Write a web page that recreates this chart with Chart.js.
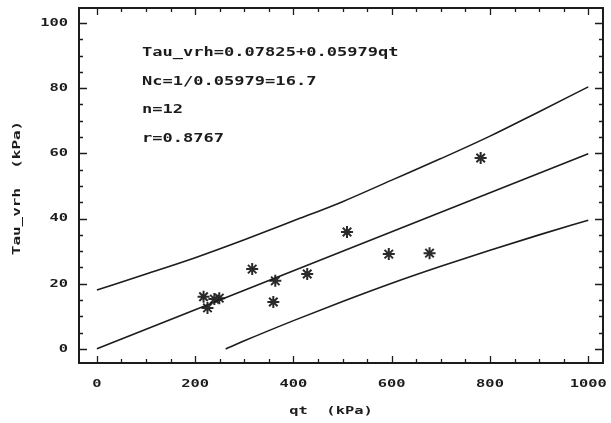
<!DOCTYPE html>
<html>
<head>
<meta charset="utf-8">
<script src="https://cdn.jsdelivr.net/npm/chart.js@4.4.1/dist/chart.umd.min.js"></script>
<style>
  html, body { margin: 0; padding: 0; background: #fff; }
  #wrap { width: 611px; height: 423px; }
</style>
</head>
<body>
<div id="wrap"><canvas id="chart" width="611" height="423"></canvas></div>
<script>
// measured points (qt, Tau_vrh)
const obsQt = [217, 225, 239, 249, 316, 359, 363, 428, 509, 594, 677, 781];
const obsTau = [16.0, 12.6, 15.3, 15.6, 24.5, 14.4, 20.9, 23.0, 35.9, 29.1, 29.4, 58.6];

// regression line
const fitQt = [0, 1000];
const fitTau = [0.1, 59.9];

// upper / lower bands
const upperQt = [0, 100, 200, 300, 400, 500, 600, 700, 800, 900, 1000];
const upperTau = [18.1, 23.0, 28.0, 33.5, 39.3, 45.2, 51.8, 58.4, 65.3, 72.8, 80.4];
const lowerQt = [262, 300, 400, 500, 600, 700, 800, 900, 1000];
const lowerTau = [0, 2.5, 8.7, 14.6, 20.2, 25.4, 30.3, 35.0, 39.5];

const xTicks = [0, 200, 400, 600, 800, 1000];
const yTicks = [0, 20, 40, 60, 80, 100];

const notes = [
  "Tau_vrh=0.07825+0.05979qt",
  "Nc=1/0.05979=16.7",
  "n=12",
  "r=0.8767"
];

const INK = "#1c1c1c";
const FONT = "'DejaVu Sans Mono', monospace";

function pairs(xs, ys) {
  return xs.map((x, i) => ({ x, y: ys[i] }));
}

function wideText(ctx, text, x, y, align, sx) {
  ctx.save();
  ctx.translate(x, y);
  ctx.scale(sx, 1);
  ctx.textAlign = align;
  ctx.fillText(text, 0, 0);
  ctx.restore();
}

const plotterFrame = {
  id: "plotterFrame",
  afterDraw(chart) {
    const ctx = chart.ctx;
    const a = chart.chartArea;
    const xs = chart.scales.x;
    const ys = chart.scales.y;
    ctx.save();
    ctx.strokeStyle = INK;
    ctx.fillStyle = INK;

    // frame
    ctx.lineWidth = 2;
    ctx.strokeRect(a.left, a.top, a.right - a.left, a.bottom - a.top);

    // inward ticks on all four sides
    ctx.lineWidth = 1.3;
    ctx.beginPath();
    for (let v = 0; v <= 1000; v += 50) {
      const px = Math.round(xs.getPixelForValue(v)) + 0.5;
      const len = v % 200 === 0 ? 7 : 4;
      ctx.moveTo(px, a.bottom); ctx.lineTo(px, a.bottom - len);
      ctx.moveTo(px, a.top); ctx.lineTo(px, a.top + len);
    }
    for (let v = 0; v <= 100; v += 5) {
      const py = Math.round(ys.getPixelForValue(v)) + 0.5;
      const len = v % 20 === 0 ? 8 : 4;
      ctx.moveTo(a.left, py); ctx.lineTo(a.left + len, py);
      ctx.moveTo(a.right, py); ctx.lineTo(a.right - len, py);
    }
    ctx.stroke();

    // tick labels
    ctx.font = "bold 11px " + FONT;
    ctx.textBaseline = "middle";
    xs.ticks.forEach((t) => {
      wideText(ctx, String(t.value), xs.getPixelForValue(t.value), a.bottom + 21, "center", 1.4);
    });
    ys.ticks.forEach((t) => {
      wideText(ctx, String(t.value), a.left - 11, ys.getPixelForValue(t.value), "right", 1.4);
    });

    // axis titles
    wideText(ctx, "qt  (kPa)", 331, a.bottom + 48, "center", 1.4);
    ctx.save();
    ctx.translate(17, 188);
    ctx.rotate(-Math.PI / 2);
    wideText(ctx, "Tau_vrh  (kPa)", 0, 0, "center", 1.45);
    ctx.restore();

    // fit summary
    ctx.font = "bold 12px " + FONT;
    notes.forEach((line, i) => {
      wideText(ctx, line, a.left + 63, a.top + 45 + i * 28.5, "left", 1.42);
    });
    ctx.restore();
  }
};

const lineStyle = {
  showLine: true,
  borderColor: INK,
  borderWidth: 1.6,
  pointRadius: 0,
  cubicInterpolationMode: "monotone",
  fill: false
};

new Chart(document.getElementById("chart"), {
  type: "scatter",
  data: {
    datasets: [
      { ...lineStyle, data: pairs(upperQt, upperTau) },
      { ...lineStyle, data: pairs(fitQt, fitTau) },
      { ...lineStyle, data: pairs(lowerQt, lowerTau) },
      {
        data: pairs(obsQt, obsTau),
        pointStyle: "star",
        pointRadius: 6,
        borderWidth: 2,
        borderColor: "#2a2a2a",
        backgroundColor: "#2a2a2a"
      }
    ]
  },
  options: {
    responsive: false,
    animation: false,
    layout: { padding: { left: 79, right: 6, top: 8, bottom: 60 } },
    plugins: { legend: { display: false }, tooltip: { enabled: false } },
    scales: {
      x: {
        type: "linear",
        display: false,
        min: -36.5,
        max: 1030,
        afterBuildTicks: (s) => { s.ticks = xTicks.map((value) => ({ value })); }
      },
      y: {
        type: "linear",
        display: false,
        min: -4.3,
        max: 104.6,
        afterBuildTicks: (s) => { s.ticks = yTicks.map((value) => ({ value })); }
      }
    }
  },
  plugins: [plotterFrame]
});
</script>
</body>
</html>
